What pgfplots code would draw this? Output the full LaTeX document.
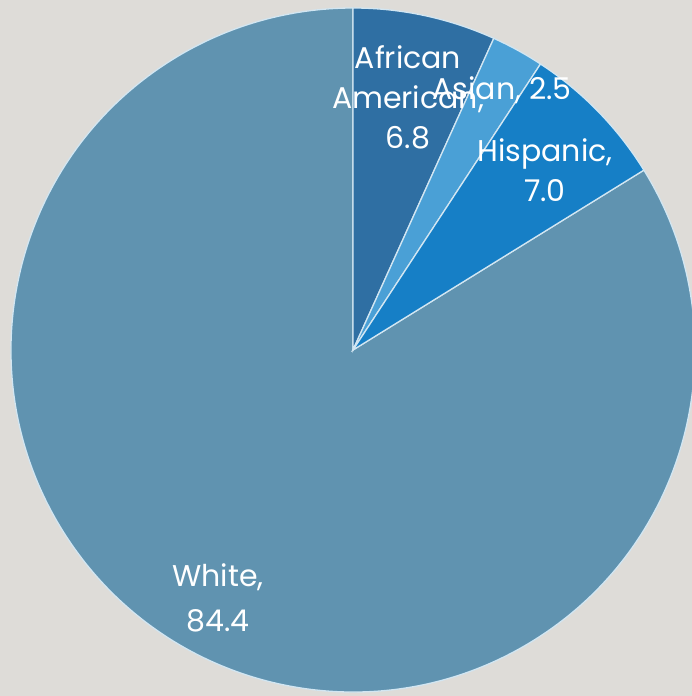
\documentclass[border=0pt]{standalone}
\usepackage{pgfplots}
\pgfplotsset{compat=1.18}
\usepackage{fontspec}
\setmainfont{Poppins}
\definecolor{bg}{HTML}{DEDCD8}
\definecolor{cW}{HTML}{6093B0}
\definecolor{cAA}{HTML}{2F6FA3}
\definecolor{cAs}{HTML}{4AA0D6}
\definecolor{cHi}{HTML}{167FC6}
\definecolor{edge}{HTML}{D2E6F2}
\begin{document}
\begin{tikzpicture}
\def\vA{6.8}\def\vB{2.5}\def\vC{7.0}\def\vD{84.4}
\pgfmathsetmacro\tot{\vA+\vB+\vC+\vD}
\pgfmathsetmacro\k{360/\tot}
\pgfmathsetmacro\aA{90-\k*\vA}
\pgfmathsetmacro\aB{\aA-\k*\vB}
\pgfmathsetmacro\aC{\aB-\k*\vC}
\pgfmathsetmacro\aD{\aC-\k*\vD}
\begin{axis}[width=692pt,height=696pt,scale only axis,
  xmin=0,xmax=692,ymin=0,ymax=696,hide axis,clip=true,
  axis background/.style={fill=bg}]
\fill[bg] (axis cs:0,0) rectangle (axis cs:692,696);
\filldraw[fill=cW,draw=edge,line width=1.3pt] (axis cs:353,346) -- ++(\aC:342pt) arc[start angle=\aC,end angle=\aD,radius=342pt] -- cycle;
\filldraw[fill=cAA,draw=edge,line width=1.3pt] (axis cs:353,346) -- ++(90:342pt) arc[start angle=90,end angle=\aA,radius=342pt] -- cycle;
\filldraw[fill=cAs,draw=edge,line width=1.3pt] (axis cs:353,346) -- ++(\aA:342pt) arc[start angle=\aA,end angle=\aB,radius=342pt] -- cycle;
\filldraw[fill=cHi,draw=edge,line width=1.3pt] (axis cs:353,346) -- ++(\aB:342pt) arc[start angle=\aB,end angle=\aC,radius=342pt] -- cycle;
\node[text=white,font=\fontsize{30}{40}\selectfont,align=center] at (axis cs:408,599) {African\\American,\\6.8};
\node[text=white,font=\fontsize{30}{40}\selectfont] at (axis cs:502,606) {Asian, 2.5};
\node[text=white,font=\fontsize{30}{40}\selectfont,align=center] at (axis cs:545,526) {Hispanic,\\7.0};
\node[text=white,font=\fontsize{30}{45}\selectfont,align=center] at (axis cs:218,98) {White,\\84.4};
\end{axis}
\end{tikzpicture}
\end{document}
